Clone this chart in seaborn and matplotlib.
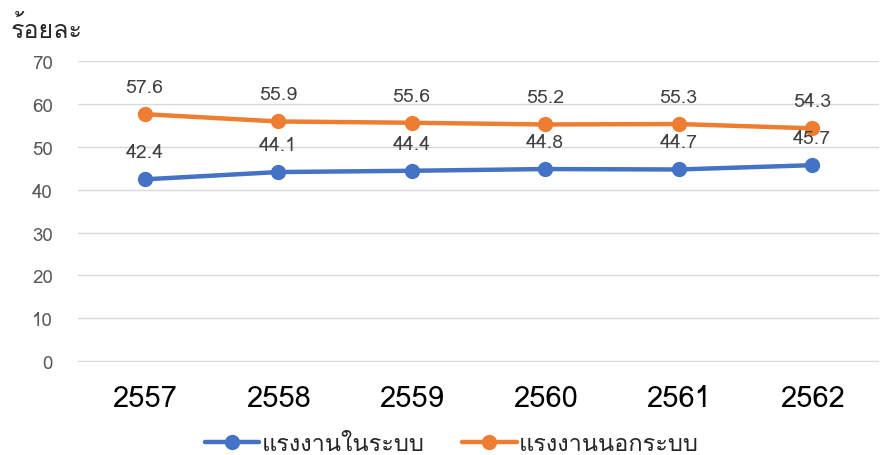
import pandas as pd
import seaborn as sns
import matplotlib
matplotlib.use("Agg")
from matplotlib import pyplot as plt
from matplotlib import font_manager

years = ["2557", "2558", "2559", "2560", "2561", "2562"]
formal = [42.4, 44.1, 44.4, 44.8, 44.7, 45.7]
informal = [57.6, 55.9, 55.6, 55.2, 55.3, 54.3]
series_names = ["แรงงานในระบบ", "แรงงานนอกระบบ"]
colors = ["#4472C4", "#ED7D31"]

sns.set_style("white")
# find any installed font that can draw Thai
thai = [f.name for f in font_manager.fontManager.ttflist if "Thai" in f.name or "Loma" in f.name or "Garuda" in f.name or "Sarabun" in f.name]
plt.rcParams["font.family"] = thai[:1] + ["DejaVu Sans"]

df = pd.DataFrame({
    "year": years * 2,
    "value": formal + informal,
    "series": [series_names[0]] * 6 + [series_names[1]] * 6,
})

fig = plt.figure(figsize=(8.85, 4.56), dpi=100)
ax = fig.add_axes([0.088, 0.204, 0.905, 0.66])
sns.lineplot(data=df, x="year", y="value", hue="series", palette=colors,
             marker="o", markersize=11, markeredgewidth=0, linewidth=3.2,
             ax=ax, sort=False)

for vals in (formal, informal):
    for i, v in enumerate(vals):
        ax.annotate(f"{v:.1f}", (i, v), xytext=(0, 13), textcoords="offset points",
                    ha="center", va="bottom", fontsize=14, color="#404040")

ax.set_ylim(-0.2, 70)
ax.set_yticks(range(0, 71, 10))
ax.set_xlim(-0.5, 5.5)
ax.grid(axis="y", color="#D9D9D9", linewidth=1)
ax.set_axisbelow(True)
for s in ax.spines.values():
    s.set_visible(False)
ax.tick_params(axis="y", labelsize=13.5, labelcolor="#595959", length=0, pad=18)
ax.tick_params(axis="x", labelsize=21, labelcolor="black", length=0, pad=16)
ax.set_xlabel("")
ax.set_ylabel("")
fig.text(0.012, 0.935, "ร้อยละ", fontsize=18, ha="left", va="center")

handles, labels = ax.get_legend_handles_labels()
ax.legend(handles, labels, loc="center", bbox_to_anchor=(0.467, -0.272), ncol=2,
          frameon=False, fontsize=17, handlelength=2.3, columnspacing=1.6, handletextpad=0.1)

fig.savefig("out.png", dpi=100)
